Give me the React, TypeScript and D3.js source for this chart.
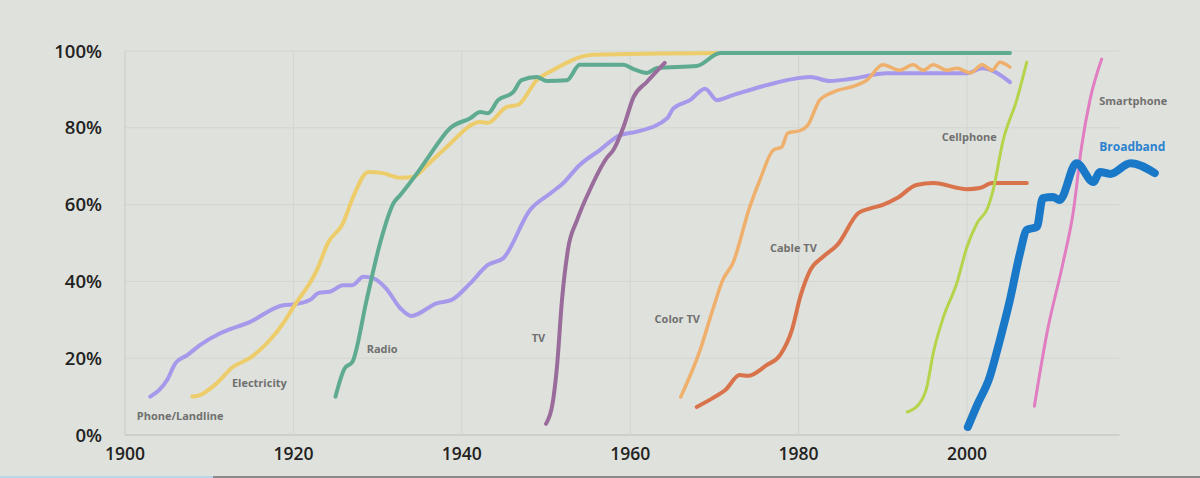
import React from "react";
import * as d3 from "d3";

const xTicks = [1900, 1920, 1940, 1960, 1980, 2000];
const yTicks = [0, 20, 40, 60, 80, 100];
const yTickLabels = ["0%", "20%", "40%", "60%", "80%", "100%"];

const phoneYears = [1903, 1905, 1906, 1907.4, 1908.9, 1911.3, 1914.8, 1918.8, 1920, 1922, 1923, 1924.3, 1925.9, 1927, 1928.3, 1929.5, 1931, 1932.7, 1934, 1937, 1938.8, 1941, 1943.1, 1944.9, 1948.1, 1950.5, 1952, 1954, 1956.4, 1958.8, 1960.8, 1964.4, 1965.1, 1967.1, 1968.9, 1970.3, 1972.2, 1976.2, 1980.2, 1981.4, 1983.7, 1986.1, 1990.5, 2000, 2001.8, 2005.1];
const phoneValues = [10, 14.3, 18.7, 20.8, 23.4, 26.5, 29.4, 33.8, 34, 35.2, 37, 37.3, 39, 39, 41.2, 40.8, 38.2, 33, 31, 34.3, 35.2, 39.5, 44.3, 46, 58.6, 62.9, 65.5, 70.3, 74.2, 78.1, 79, 82.5, 85, 87.2, 90.2, 87.2, 88.5, 91.1, 93, 93.2, 92.2, 92.7, 94.2, 94.2, 95.5, 91.9];

const electricityYears = [1908, 1908.9, 1910.9, 1912.8, 1914.8, 1916.9, 1918.8, 1920, 1922.8, 1924.1, 1925.9, 1927.1, 1928.9, 1930.6, 1932.7, 1934.2, 1935.9, 1938.2, 1942.2, 1943.1, 1945.3, 1946.7, 1948.9, 1950.8, 1955.6, 1970.3];
const electricityValues = [10, 10.4, 13.5, 17.7, 20, 24, 29.1, 33.3, 43, 50, 55.2, 62, 68.5, 68.2, 67, 67.2, 70.3, 75, 81.5, 81.3, 85.4, 86, 92.4, 95, 99, 99.5];

const radioYears = [1925, 1926.1, 1927, 1928.7, 1930.3, 1931.9, 1932.7, 1934.7, 1936.2, 1938.6, 1941, 1942.2, 1943.1, 1944.3, 1946.1, 1947.1, 1948.9, 1950.1, 1952.5, 1954, 1959.2, 1960.4, 1962, 1963.2, 1967.9, 1970.7, 2005.1];
const radioValues = [10, 17.4, 19, 35.2, 50, 60.4, 62.5, 68.2, 72.9, 79.9, 82.5, 84.1, 83.8, 87.2, 89.3, 92.4, 93.2, 92.2, 92.4, 96.4, 96.4, 95.3, 94.3, 95.6, 96.1, 99.5, 99.5];

const tvYears = [1950, 1950.9, 1951.3, 1951.9, 1952.6, 1953.7, 1955.2, 1957.2, 1958, 1959.2, 1960.4, 1962, 1964.1];
const tvValues = [2.9, 9.9, 17.7, 35.2, 48.2, 56, 63.8, 72.1, 74.2, 80.2, 88, 92, 96.9];

const colorTvYears = [1966, 1968.3, 1969.8, 1971, 1972.2, 1974.2, 1975.4, 1977, 1978, 1978.7, 1980.2, 1981.1, 1982.5, 1984.1, 1986.9, 1988.1, 1990, 1992, 1993.6, 1994.8, 1996, 1997.6, 1998.8, 2000.4, 2001.8, 2003, 2003.9, 2005.1];
const colorTvValues = [9.9, 22.1, 32.6, 40.4, 44.8, 59.4, 66.4, 74.2, 75, 78.6, 79.3, 80.7, 87.2, 89.3, 91.1, 92.4, 96.4, 95, 96.4, 95, 96.4, 95, 95.5, 94.3, 96.4, 95, 97.1, 95.8];

const cableYears = [1967.9, 1969.8, 1971.3, 1973, 1974, 1976.2, 1977.8, 1979.2, 1980.2, 1981.4, 1982.9, 1984.6, 1987.1, 1988.5, 1990, 1991.7, 1994, 1996, 2000, 2001.5, 2003, 2007.1];
const cableValues = [7.3, 9.6, 11.7, 15.6, 15.4, 18.2, 20.8, 27.3, 36, 43, 46.4, 49.5, 57.8, 59, 59.9, 61.7, 65.1, 65.6, 64, 64.3, 65.6, 65.6];

const cellYears = [1992.9, 1994.2, 1995.2, 1996, 1997.2, 1998.8, 2000, 2001.2, 2002.5, 2003.1, 2004.3, 2005.9, 2007.1];
const cellValues = [6, 7.8, 12.2, 21.4, 30.7, 39.6, 49, 55.2, 59.4, 63.8, 76.8, 87.2, 97.1];

const smartYears = [2008, 2009.5, 2011.4, 2012.6, 2013.6, 2014.6, 2016];
const smartValues = [7.5, 26.6, 44.8, 57.8, 75, 87.2, 97.9];

const broadbandYears = [2000.1, 2001.2, 2002.7, 2003.9, 2005.1, 2006.3, 2007.1, 2008.3, 2009, 2010.2, 2011, 2013, 2015, 2015.8, 2017, 2019.4, 2022.3];
const broadbandValues = [2.1, 7.8, 15.1, 24.7, 35.2, 47.4, 53.4, 54.2, 61.7, 62, 61.2, 70.8, 65.9, 68.5, 68, 70.8, 68.2];

const seriesNames = ["Phone/Landline", "Electricity", "Radio", "TV", "Color TV", "Cable TV", "Cellphone", "Smartphone", "Broadband"];
const seriesColors = ["#a698ea", "#edcd6b", "#5eab91", "#9a6c9b", "#efb06d", "#d8734b", "#b5d44b", "#e17dc1", "#1a78c8"];
const seriesWidths = [4, 4, 4, 4, 3.5, 4, 3, 3, 8];
const seriesYears = [phoneYears, electricityYears, radioYears, tvYears, colorTvYears, cableYears, cellYears, smartYears, broadbandYears];
const seriesValues = [phoneValues, electricityValues, radioValues, tvValues, colorTvValues, cableValues, cellValues, smartValues, broadbandValues];
// label anchor points (year, value at the text's vertical middle)
const labelYears = [1901.4, 1912.7, 1928.7, 1948.3, 1962.9, 1976.6, 1997.0, 2015.7, 2015.7];
const labelValues = [4.9, 13.5, 22.4, 25.3, 30.2, 48.7, 77.6, 87, 75];

const W = 1200;
const H = 478;

export default function App() {
  const x = d3.scaleLinear().domain([1900, 2000]).range([125, 967]);
  const y = d3.scaleLinear().domain([0, 100]).range([435, 51]);
  const xEnd = 2018.1;
  const line = d3
    .line<[number, number]>()
    .x((d) => x(d[0]))
    .y((d) => y(d[1]))
    .curve(d3.curveMonotoneX);

  return (
    <svg
      width={W}
      height={H}
      style={{ position: "absolute", left: 0, top: 0, display: "block" }}
      fontFamily="'Open Sans', 'Noto Sans', sans-serif"
    >
      <rect x={0} y={0} width={W} height={H} fill="#dfe1dc" />
      {/* grid */}
      {yTicks.map((t) => (
        <line
          key={"gy" + t}
          x1={x(1900)}
          x2={x(xEnd)}
          y1={y(t)}
          y2={y(t)}
          stroke={t === 0 ? "#c6c8c4" : "#d3d5d0"}
          strokeWidth={t === 0 ? 1.5 : 1}
        />
      ))}
      {xTicks.map((t) => (
        <line
          key={"gx" + t}
          x1={x(t)}
          x2={x(t)}
          y1={y(0)}
          y2={y(100)}
          stroke={t === 1900 ? "#cacbc7" : "#d3d5d0"}
          strokeWidth={1}
        />
      ))}
      {/* y labels */}
      {yTicks.map((t, i) => (
        <text
          key={"yl" + t}
          x={102}
          y={y(t) + 6.5}
          textAnchor="end"
          fontSize={18.5}
          fontWeight={600}
          fill="#222"
        >
          {yTickLabels[i]}
        </text>
      ))}
      {xTicks.map((t) => (
        <text
          key={"xl" + t}
          x={x(t)}
          y={460}
          textAnchor="middle"
          fontSize={17.5}
          fontWeight={600}
          fill="#222"
        >
          {t}
        </text>
      ))}
      {/* lines */}
      {seriesNames.map((name, i) => {
        const pts: [number, number][] = seriesYears[i].map((yr, j) => [yr, seriesValues[i][j]]);
        return (
          <path
            key={name}
            d={line(pts) || ""}
            fill="none"
            stroke={seriesColors[i]}
            strokeWidth={seriesWidths[i]}
            strokeLinecap="round"
            strokeLinejoin="round"
          />
        );
      })}
      {/* labels */}
      {seriesNames.map((name, i) => (
        <text
          key={"lab" + name}
          x={x(labelYears[i])}
          y={y(labelValues[i]) + 4}
          fontSize={name === "Broadband" ? 12 : 11}
          fontWeight={700}
          fill={name === "Broadband" ? "#2a82cf" : "#707070"}
        >
          {name}
        </text>
      ))}
      {/* bottom strip */}
      <rect x={0} y={476} width={213} height={2} fill="#b9d6e6" />
      <rect x={213} y={476} width={W - 213} height={2} fill="#8a8a8a" />
    </svg>
  );
}
